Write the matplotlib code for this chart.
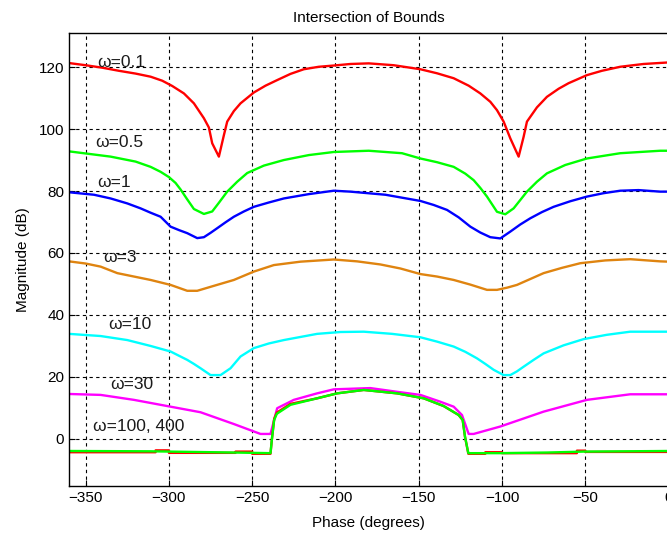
import matplotlib
matplotlib.use("Agg")
import matplotlib.pyplot as plt

# Datos (fase en grados, magnitud en dB)
x_w01 = [-360, -350, -340, -330, -320, -311, -304, -298, -291, -285, -279, -276, -274, -270, -267, -265, -261, -257, -249, -242, -235, -227, -219, -210, -201, -191, -180, -165, -149, -139, -129, -120, -113, -107, -103, -99, -95, -90, -87, -85, -79, -73, -66, -60, -49, -40, -29, -15, 0]
y_w01 = [121.3, 120.6, 119.8, 118.8, 117.9, 116.9, 115.6, 113.9, 111.5, 108.3, 103.5, 100.5, 95.4, 91.1, 98.0, 102.4, 105.8, 108.3, 111.8, 114.0, 115.8, 117.8, 119.3, 120.1, 120.5, 121.0, 121.2, 120.6, 119.3, 118.0, 116.4, 114.0, 111.5, 108.8, 106.1, 102.4, 97.0, 91.1, 97.5, 102.4, 107.0, 110.4, 113.0, 114.8, 117.4, 118.8, 120.1, 121.0, 121.5]

x_w05 = [-360, -335, -320, -311, -305, -300, -296, -293, -289, -285, -279, -274, -270, -265, -259, -253, -243, -231, -216, -201, -180, -160, -149, -139, -129, -122, -117, -113, -109, -103, -98, -93, -89, -85, -79, -73, -62, -49, -29, -5, 0]
y_w05 = [92.8, 91.1, 89.5, 87.8, 86.2, 84.5, 82.6, 80.5, 77.3, 74.2, 72.6, 73.4, 76.2, 79.8, 83.0, 85.8, 88.2, 90.0, 91.6, 92.6, 93.0, 92.2, 90.5, 89.3, 87.8, 85.6, 83.5, 81.0, 78.2, 73.3, 72.5, 74.4, 77.1, 79.8, 83.0, 85.7, 88.4, 90.5, 92.2, 93.0, 93.0]

x_w1 = [-360, -345, -335, -325, -317, -311, -305, -299, -294, -289, -283, -279, -275, -271, -266, -261, -255, -249, -240, -231, -216, -201, -191, -170, -149, -141, -133, -126, -119, -113, -107, -101, -95, -89, -83, -76, -69, -59, -49, -39, -29, -18, -5, 0]
y_w1 = [79.6, 78.8, 77.6, 76.0, 74.4, 73.0, 71.7, 68.5, 67.4, 66.4, 64.8, 65.1, 66.5, 68.0, 69.9, 71.7, 73.4, 74.9, 76.3, 77.6, 79.0, 80.1, 79.8, 78.8, 76.8, 75.5, 73.9, 71.5, 68.5, 66.6, 65.1, 64.7, 66.9, 69.2, 71.2, 73.2, 74.9, 76.7, 78.2, 79.3, 80.1, 80.3, 79.8, 79.8]

x_w3 = [-360, -350, -341, -331, -321, -311, -299, -289, -283, -273, -261, -249, -237, -221, -201, -187, -173, -161, -149, -139, -129, -119, -109, -103, -97, -91, -83, -75, -64, -53, -38, -23, -5, 0]
y_w3 = [57.3, 56.6, 55.6, 53.5, 52.4, 51.3, 49.7, 47.8, 47.8, 49.4, 51.3, 54.0, 56.1, 57.2, 57.9, 57.3, 56.3, 55.0, 53.2, 52.4, 51.3, 49.8, 48.1, 48.1, 48.8, 49.7, 51.6, 53.5, 55.2, 56.7, 57.6, 58.0, 57.3, 57.2]

x_w10 = [-360, -341, -325, -311, -299, -289, -285, -281, -275, -269, -263, -257, -249, -240, -231, -211, -197, -183, -166, -149, -139, -129, -122, -115, -110, -105, -99, -95, -91, -87, -81, -75, -63, -51, -37, -23, 0]
y_w10 = [33.9, 33.2, 31.9, 30.0, 28.2, 25.5, 24.2, 22.8, 20.6, 20.6, 22.8, 26.6, 29.3, 30.8, 31.9, 33.9, 34.5, 34.6, 33.9, 32.8, 31.4, 29.8, 28.1, 26.0, 24.2, 22.3, 20.6, 20.6, 21.8, 23.3, 25.5, 27.6, 30.2, 32.2, 33.6, 34.6, 34.6]

x_w30 = [-360, -341, -321, -301, -281, -261, -245, -239, -235, -225, -211, -201, -179, -163, -149, -137, -129, -124, -120, -117, -101, -75, -49, -23, 0]
y_w30 = [14.5, 14.2, 12.6, 10.6, 8.6, 4.8, 1.6, 1.6, 9.9, 12.6, 14.7, 16.0, 16.4, 15.2, 14.2, 12.0, 10.4, 7.7, 1.6, 1.6, 4.0, 8.8, 12.6, 14.4, 14.4]

x_w400 = [-360, -308, -308, -300, -300, -260, -260, -250, -250, -239, -238.2, -236.8, -235.2, -227, -211, -199, -183, -163, -147, -135, -126, -123.6, -122.2, -120.2, -110, -110, -100, -100, -55, -55, -50, -50, 0]
y_w400 = [-4.3, -4.3, -3.7, -3.7, -4.5, -4.5, -4.1, -4.1, -4.8, -4.8, -0.3, 6.5, 8.5, 11.3, 13.1, 14.7, 15.8, 14.7, 13.1, 10.6, 7.7, 6.1, 0.7, -4.8, -4.8, -4.3, -4.3, -4.6, -4.6, -3.8, -3.8, -4.2, -4.2]

x_w100 = [-360, -311, -261, -239, -238.2, -236.8, -235.2, -227, -211, -199, -183, -163, -147, -135, -126, -123.6, -122.2, -120.2, -101, -73, -51, 0]
y_w100 = [-3.9, -4.0, -4.4, -4.6, -0.3, 6.1, 8.1, 11.0, 13.1, 14.7, 15.8, 14.7, 13.1, 10.6, 7.7, 6.1, 0.7, -4.6, -4.6, -4.4, -4.1, -3.9]

# Etiquetas de cada curva: texto, fase, magnitud
etiquetas = ["\u03c9=0.1", "\u03c9=0.5", "\u03c9=1", "\u03c9=3", "\u03c9=10", "\u03c9=30", "\u03c9=100, 400"]
etiq_x = [-343, -344, -343, -339.5, -336.5, -335, -345.5]
etiq_y = [121.6, 95.8, 82.9, 58.7, 36.8, 17.4, 3.9]

plt.rcParams['font.family'] = ['Liberation Sans', 'DejaVu Sans']

fig = plt.figure(figsize=(6.67, 5.33), dpi=100)
ax = fig.add_axes([69 / 667, 47 / 533, 599.5 / 667, 453 / 533])

lw = 1.7
ax.plot(x_w01, y_w01, color=(1, 0, 0), lw=lw)
ax.plot(x_w05, y_w05, color=(0, 1, 0), lw=lw)
ax.plot(x_w1, y_w1, color=(0, 0, 1), lw=lw)
ax.plot(x_w3, y_w3, color='#DF8410', lw=lw)
ax.plot(x_w10, y_w10, color=(0, 1, 1), lw=lw)
ax.plot(x_w30, y_w30, color=(1, 0, 1), lw=lw)
ax.plot(x_w400, y_w400, color=(1, 0, 0), lw=lw)
ax.plot(x_w100, y_w100, color=(0, 1, 0), lw=lw)

for t, xt, yt in zip(etiquetas, etiq_x, etiq_y):
    ax.text(xt, yt, t, fontsize=12.5, ha='left', va='center', color='#1a1a1a')

ax.set_xlim(-360, 0)
ax.set_ylim(-15.2, 131)
ax.set_xticks([-350, -300, -250, -200, -150, -100, -50, 0])
ax.set_yticks([0, 20, 40, 60, 80, 100, 120])
ax.tick_params(direction='in', labelsize=11, length=4, width=0.8)
ax.grid(True, color='k', linestyle=(0, (3, 3)), linewidth=0.8)
for s in ax.spines.values():
    s.set_linewidth(1.0)

ax.set_title("Intersection of Bounds", fontsize=11, pad=8)
ax.set_xlabel("Phase (degrees)", fontsize=11, labelpad=8)
ax.set_ylabel("Magnitude (dB)", fontsize=11, labelpad=6)

fig.savefig("out.png", dpi=100)
